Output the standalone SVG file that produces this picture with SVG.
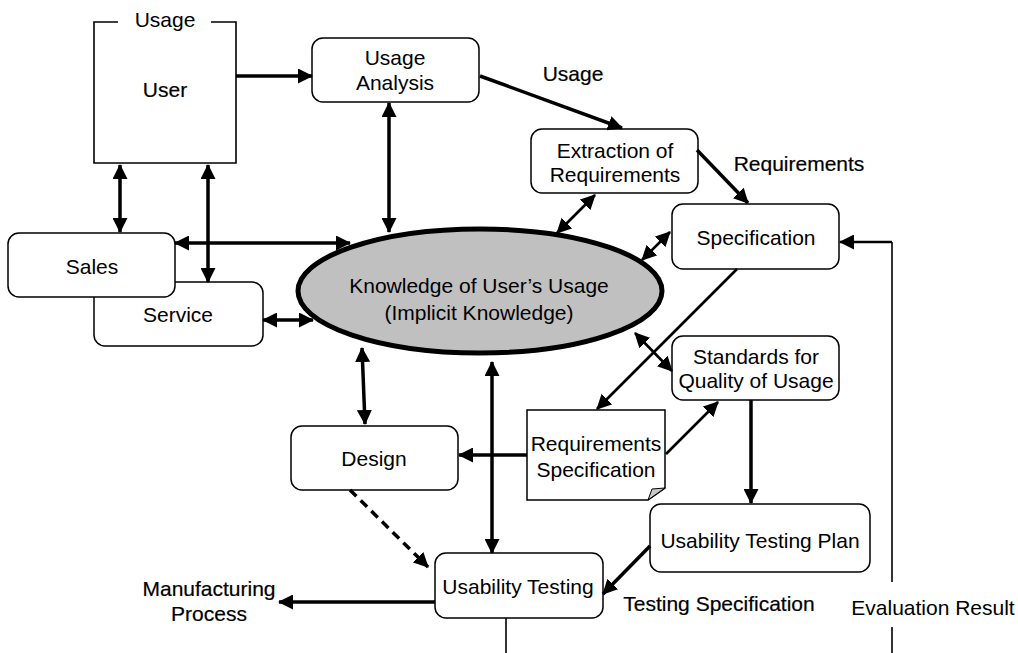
<svg xmlns="http://www.w3.org/2000/svg" width="1018" height="653" viewBox="0 0 1018 653">
  <style>
    text { font-family: "Liberation Sans", Arial, sans-serif; font-size: 21px; fill: #000; text-anchor: middle; }
    .dark { stroke: #000; stroke-width: 0.2; }
    .box { fill: #fff; stroke: #000; stroke-width: 1.5; }
    .c { fill: none; stroke: #000; stroke-width: 3.5; }
    .m { fill: none; stroke: #000; stroke-width: 2.6; }
    .t { fill: none; stroke: #000; stroke-width: 1.6; }
    .dash { stroke-dasharray: 9 6; }
  </style>
  <defs>
    <marker id="head" markerUnits="userSpaceOnUse" markerWidth="15" markerHeight="15" viewBox="0 0 15 15" refX="14" refY="7.5" orient="auto">
      <path d="M0,0 L15,7.5 L0,15 Z" fill="#000"/>
    </marker>
    <marker id="tail" markerUnits="userSpaceOnUse" markerWidth="15" markerHeight="15" viewBox="0 0 15 15" refX="1" refY="7.5" orient="auto">
      <path d="M15,0 L0,7.5 L15,15 Z" fill="#000"/>
    </marker>
  </defs>

  <!-- Service sits behind Sales -->
  <g id="service">
    <rect class="box" x="94" y="282" width="169" height="64" rx="11"/>
    <text x="178" y="322">Service</text>
  </g>
  <g id="sales">
    <rect class="box" x="8" y="233" width="167" height="64" rx="11"/>
    <text x="92" y="274">Sales</text>
  </g>

  <g id="user">
    <path class="t" d="M118,22 H94 V163 H236 V22 H211"/>
    <text x="165" y="27">Usage</text>
    <text class="dark" x="165" y="97">User</text>
  </g>

  <g id="usage-analysis">
    <rect class="box" x="312" y="38" width="167" height="64" rx="11"/>
    <text x="395" y="65">Usage</text>
    <text x="395" y="90">Analysis</text>
  </g>

  <g id="extraction">
    <rect class="box" x="531" y="129" width="167" height="64" rx="11"/>
    <text x="615" y="158">Extraction of</text>
    <text x="615" y="182">Requirements</text>
  </g>

  <g id="specification">
    <rect class="box" x="672" y="204" width="167" height="65" rx="11"/>
    <text x="756" y="245">Specification</text>
  </g>

  <g id="knowledge">
    <ellipse cx="480" cy="291" rx="182" ry="62" fill="#c0c0c0" stroke="#000" stroke-width="5"/>
    <text x="479" y="293">Knowledge of User’s Usage</text>
    <text x="479" y="320">(Implicit Knowledge)</text>
  </g>

  <g id="standards">
    <rect class="box" x="672" y="336" width="167" height="64" rx="11"/>
    <text x="756" y="364">Standards for</text>
    <text x="756" y="388">Quality of Usage</text>
  </g>

  <g id="design">
    <rect class="box" x="291" y="426" width="167" height="64" rx="11"/>
    <text x="374" y="466">Design</text>
  </g>

  <g id="requirements-specification">
    <path class="box" d="M527,410 H665 V488 L648,500 H527 Z"/>
    <path d="M648,500 L652,489 L665,488 Z" fill="#c8c8c8" stroke="#000" stroke-width="1"/>
    <text x="596" y="451">Requirements</text>
    <text x="596" y="477">Specification</text>
  </g>

  <g id="testing-plan">
    <rect class="box" x="650" y="504" width="220" height="68" rx="11"/>
    <text x="760" y="548">Usability Testing Plan</text>
  </g>

  <g id="usability-testing">
    <rect class="box" x="435" y="553" width="168" height="65" rx="11"/>
    <text x="518" y="594">Usability Testing</text>
  </g>

  <g id="labels">
    <text class="dark" x="573" y="81">Usage</text>
    <text class="dark" x="799" y="171">Requirements</text>
    <text class="dark" x="719" y="611">Testing Specification</text>
    <text x="933" y="615">Evaluation Result</text>
    <text class="dark" x="209" y="596">Manufacturing</text>
    <text class="dark" x="209" y="621">Process</text>
  </g>

  <g id="connectors">
    <line class="c" x1="236" y1="76" x2="312" y2="76" marker-end="url(#head)"/>
    <line class="c" x1="480" y1="76" x2="622" y2="128" marker-end="url(#head)"/>
    <line class="c" x1="697" y1="150" x2="748" y2="203" marker-end="url(#head)"/>
    <line class="c" x1="389" y1="103" x2="389" y2="232" marker-start="url(#tail)" marker-end="url(#head)"/>
    <line class="m" x1="595" y1="195" x2="557" y2="233" marker-start="url(#tail)" marker-end="url(#head)"/>
    <line class="m" x1="670" y1="232" x2="642" y2="260" marker-start="url(#tail)" marker-end="url(#head)"/>
    <line class="c" x1="175" y1="243" x2="350" y2="243" marker-start="url(#tail)" marker-end="url(#head)"/>
    <line class="c" x1="120" y1="165" x2="120" y2="232" marker-start="url(#tail)" marker-end="url(#head)"/>
    <line class="c" x1="208" y1="165" x2="208" y2="282" marker-start="url(#tail)" marker-end="url(#head)"/>
    <line class="c" x1="263" y1="320" x2="313" y2="320" marker-start="url(#tail)" marker-end="url(#head)"/>
    <line class="c" x1="362" y1="348" x2="365" y2="424" marker-start="url(#tail)" marker-end="url(#head)"/>
    <line class="c" x1="492" y1="362" x2="492" y2="553" marker-start="url(#tail)" marker-end="url(#head)"/>
    <line class="m" x1="737" y1="269" x2="597" y2="409" marker-end="url(#head)"/>
    <line class="m" x1="635" y1="333" x2="672" y2="371" marker-start="url(#tail)" marker-end="url(#head)"/>
    <line class="m" x1="666" y1="454" x2="718" y2="402" marker-end="url(#head)"/>
    <line class="c" x1="527" y1="455" x2="459" y2="455" marker-end="url(#head)"/>
    <line class="c" x1="751" y1="400" x2="751" y2="503" marker-end="url(#head)"/>
    <line class="c" x1="650" y1="546" x2="603" y2="594" marker-end="url(#head)"/>
    <line class="c dash" x1="350" y1="490" x2="428" y2="567" marker-end="url(#head)"/>
    <line class="c" x1="435" y1="602" x2="279" y2="602" marker-end="url(#head)"/>
    <!-- evaluation feedback loop -->
    <line class="t" x1="506" y1="618" x2="506" y2="653"/>
    <line class="t" x1="892" y1="627" x2="892" y2="653"/>
    <line class="t" x1="892" y1="582" x2="892" y2="242"/>
    <line class="m" x1="892" y1="242" x2="840" y2="242" marker-end="url(#head)"/>
  </g>
</svg>
